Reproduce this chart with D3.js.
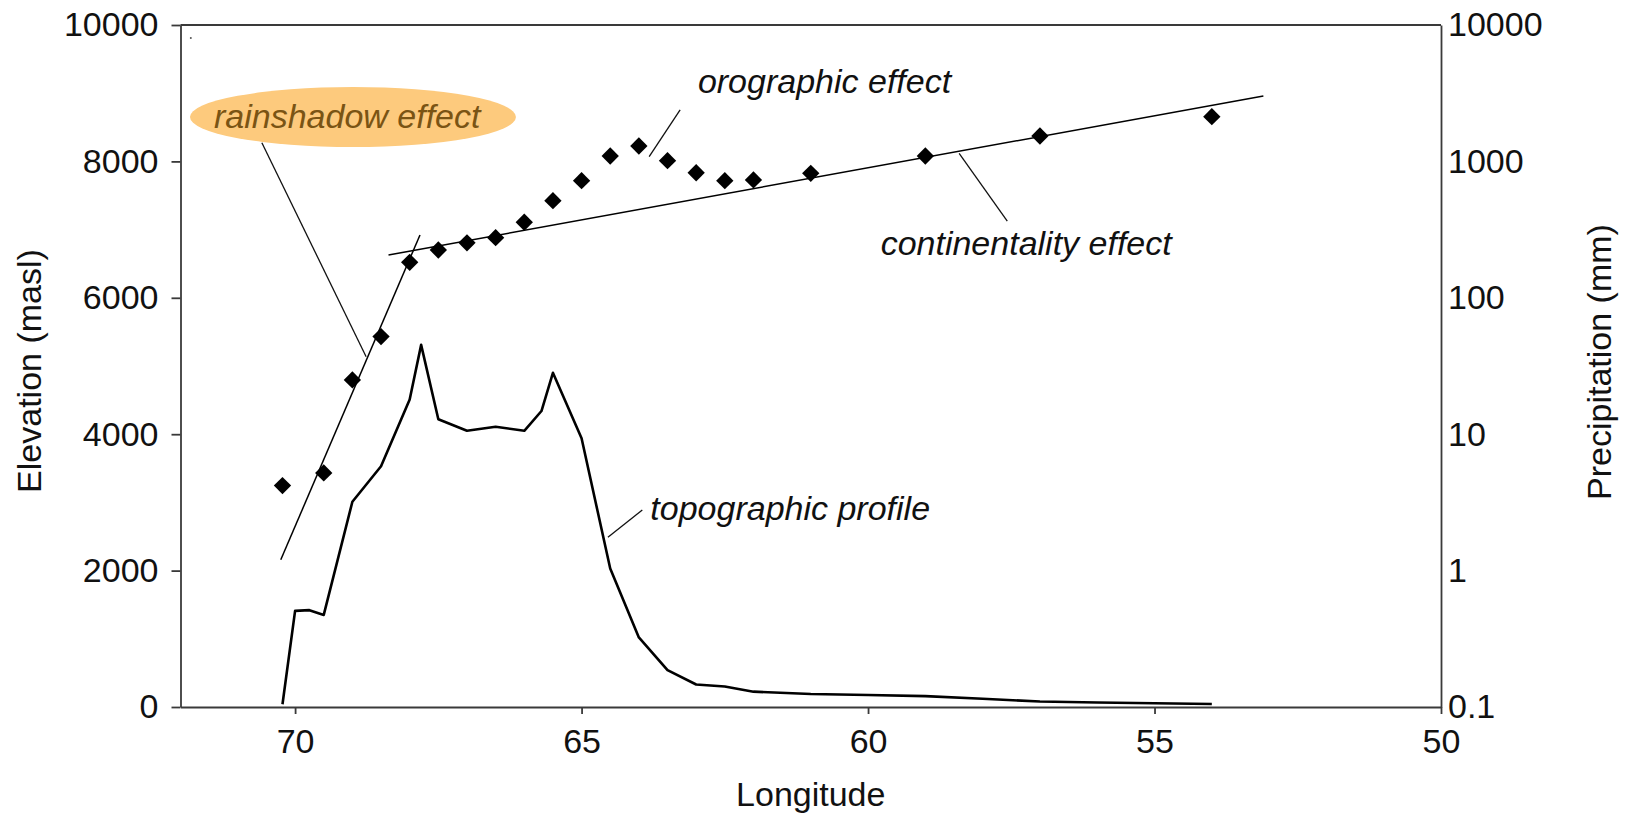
<!DOCTYPE html>
<html>
<head>
<meta charset="utf-8">
<script src="https://cdn.jsdelivr.net/npm/d3@7"></script>
<style>
  body { margin: 0; background: #fff; }
  svg text { font-family: "Liberation Sans", Arial, Helvetica, sans-serif; fill: #111; }
  .axis path, .axis line { stroke: #3a3a3a; stroke-width: 1.8; }
</style>
</head>
<body>
<div id="chart"></div>
<script>

// topographic profile along the transect (elevation, masl)
var topoLon  = [70.22, 70.0, 69.75, 69.5, 69.0, 68.5, 68.0, 67.8, 67.5, 67.0, 66.5, 66.0, 65.7, 65.5,
                65.0, 64.5, 64.0, 63.5, 63.0, 62.5, 62.0, 61.0, 60.0, 59.0, 58.0, 57.0, 56.0, 55.0, 54.0];
var topoElev = [40, 1410, 1420, 1350, 3010, 3530, 4510, 5310, 4220, 4050, 4110, 4050, 4340, 4900,
                3940, 2030, 1020, 540, 330, 300, 225, 190, 175, 160, 120, 80, 65, 55, 45];

// precipitation stations (mm)
var precLon = [70.22, 69.5, 69.0, 68.5, 68.0, 67.5, 67.0, 66.5, 66.0, 65.5, 65.0,
               64.5, 64.0, 63.5, 63.0, 62.5, 62.0, 61.0, 59.0, 57.0, 54.0];
var precVal = [4.2, 5.2, 25, 52, 182, 224, 253, 276, 358, 515, 722,
               1095, 1297, 1012, 826, 722, 731, 818, 1095, 1535, 2128];

// fitted trends (end points, precipitation mm)
var rainFitLon = [70.25, 67.82];
var rainFitVal = [1.2, 289];
var contFitLon = [68.37, 53.1];
var contFitVal = [206, 3017];

// axis ticks
var lonTicks = [70, 65, 60, 55, 50];
var elevTicks = [0, 2000, 4000, 6000, 8000, 10000];
var precTicks = [0.1, 1, 10, 100, 1000, 10000];
var precTickLabels = ["0.1", "1", "10", "100", "1000", "10000"];

// annotations, placed in (longitude, elevation) units
var noteText = ["rainshadow effect", "orographic effect", "continentality effect", "topographic profile"];
var noteLon  = [69.09, 62.97, 59.78, 63.80];
var noteElev = [8490, 9003, 6628, 2742];
var noteAnchor = ["middle", "start", "start", "start"];
var leaderLon  = [[70.58, 68.76], [63.82, 63.28], [58.41, 57.57], [64.54, 63.94]];
var leaderElev = [[8274, 5136], [8069, 8754], [8119, 7126], [2488, 2889]];


var W = 1630, H = 818;
var margin = {top: 25, right: 189, bottom: 111, left: 180.5},
    width = W - margin.left - margin.right,
    height = H - margin.top - margin.bottom;

var svg = d3.select("#chart").append("svg")
    .attr("width", W)
    .attr("height", H)
  .append("g")
    .attr("transform", "translate(" + margin.left + "," + margin.top + ")");

var x = d3.scaleLinear().domain([72, 50]).range([0, width]);
var yElev = d3.scaleLinear().domain([0, 10000]).range([height, 0]);
var yPrec = d3.scaleLog().domain([0.1, 10000]).range([height, 0]);

// frame: top border
svg.append("line")
    .attr("x1", 0).attr("x2", width)
    .attr("y1", 0).attr("y2", 0)
    .attr("stroke", "#3a3a3a").attr("stroke-width", 1.8);

// axes
var fs = 34;

var gx = svg.append("g").attr("class", "axis")
    .attr("transform", "translate(0," + height + ")")
    .call(d3.axisBottom(x).tickValues(lonTicks).tickSize(7).tickSizeOuter(0).tickPadding(15)
      .tickFormat(d3.format("d")));

var gl = svg.append("g").attr("class", "axis")
    .call(d3.axisLeft(yElev).tickValues(elevTicks).tickSize(9).tickSizeOuter(0).tickPadding(13)
      .tickFormat(d3.format("d")));

var gr = svg.append("g").attr("class", "axis")
    .attr("transform", "translate(" + width + ",0)")
    .call(d3.axisRight(yPrec).tickValues(precTicks).tickSize(0).tickSizeOuter(0).tickPadding(7)
      .tickFormat(function(d, i) { return precTickLabels[i]; }));

[gx, gl, gr].forEach(function(g) {
  g.selectAll("text").attr("font-size", fs).attr("fill", "#111");
});

// axis titles
svg.append("text")
    .attr("x", (x(50) + x(72)) / 2)
    .attr("y", height + 99)
    .attr("text-anchor", "middle")
    .attr("font-size", fs)
    .text("Longitude");

svg.append("text")
    .attr("transform", "translate(" + (-margin.left + 41) + "," + (height / 2 + 5) + ") rotate(-90)")
    .attr("text-anchor", "middle")
    .attr("font-size", fs)
    .text("Elevation (masl)");

svg.append("text")
    .attr("transform", "translate(" + (width + 170) + "," + (height / 2 - 4) + ") rotate(-90)")
    .attr("text-anchor", "middle")
    .attr("font-size", fs)
    .text("Precipitation (mm)");

// stray dot near the top left corner
svg.append("circle")
    .attr("cx", x(71.82)).attr("cy", yElev(9810))
    .attr("r", 1).attr("fill", "#555");

// topographic profile
var topo = topoLon.map(function(d, i) { return [d, topoElev[i]]; });
svg.append("path")
    .datum(topo)
    .attr("fill", "none")
    .attr("stroke", "#000")
    .attr("stroke-width", 2.6)
    .attr("stroke-linejoin", "round")
    .attr("d", d3.line()
      .x(function(d) { return x(d[0]); })
      .y(function(d) { return yElev(d[1]); }));

// trend lines
function fitLine(lons, vals) {
  svg.append("line")
      .attr("x1", x(lons[0])).attr("y1", yPrec(vals[0]))
      .attr("x2", x(lons[1])).attr("y2", yPrec(vals[1]))
      .attr("stroke", "#000")
      .attr("stroke-width", 1.5);
}
fitLine(rainFitLon, rainFitVal);
fitLine(contFitLon, contFitVal);

// precipitation diamonds
svg.selectAll("path.pt")
    .data(precLon)
  .enter().append("path")
    .attr("class", "pt")
    .attr("d", d3.symbol().type(d3.symbolSquare).size(150))
    .attr("fill", "#000")
    .attr("transform", function(d, i) {
      return "translate(" + x(d) + "," + yPrec(precVal[i]) + ") rotate(45)";
    });

// rainshadow highlight
svg.append("ellipse")
    .attr("cx", x(68.99)).attr("cy", yElev(8651))
    .attr("rx", 163).attr("ry", 30)
    .attr("fill", "#fdca7d");

// leader lines
leaderLon.forEach(function(l, i) {
  svg.append("line")
      .attr("x1", x(l[0])).attr("y1", yElev(leaderElev[i][0]))
      .attr("x2", x(l[1])).attr("y2", yElev(leaderElev[i][1]))
      .attr("stroke", "#111")
      .attr("stroke-width", 1.3);
});

// annotation labels
noteText.forEach(function(t, i) {
  svg.append("text")
      .attr("x", x(noteLon[i]))
      .attr("y", yElev(noteElev[i]))
      .attr("text-anchor", noteAnchor[i])
      .attr("font-size", fs)
      .attr("font-style", "italic")
      .style("fill", i == 0 ? "#7a5414" : "#111")
      .text(t);
});

</script>
</body>
</html>
